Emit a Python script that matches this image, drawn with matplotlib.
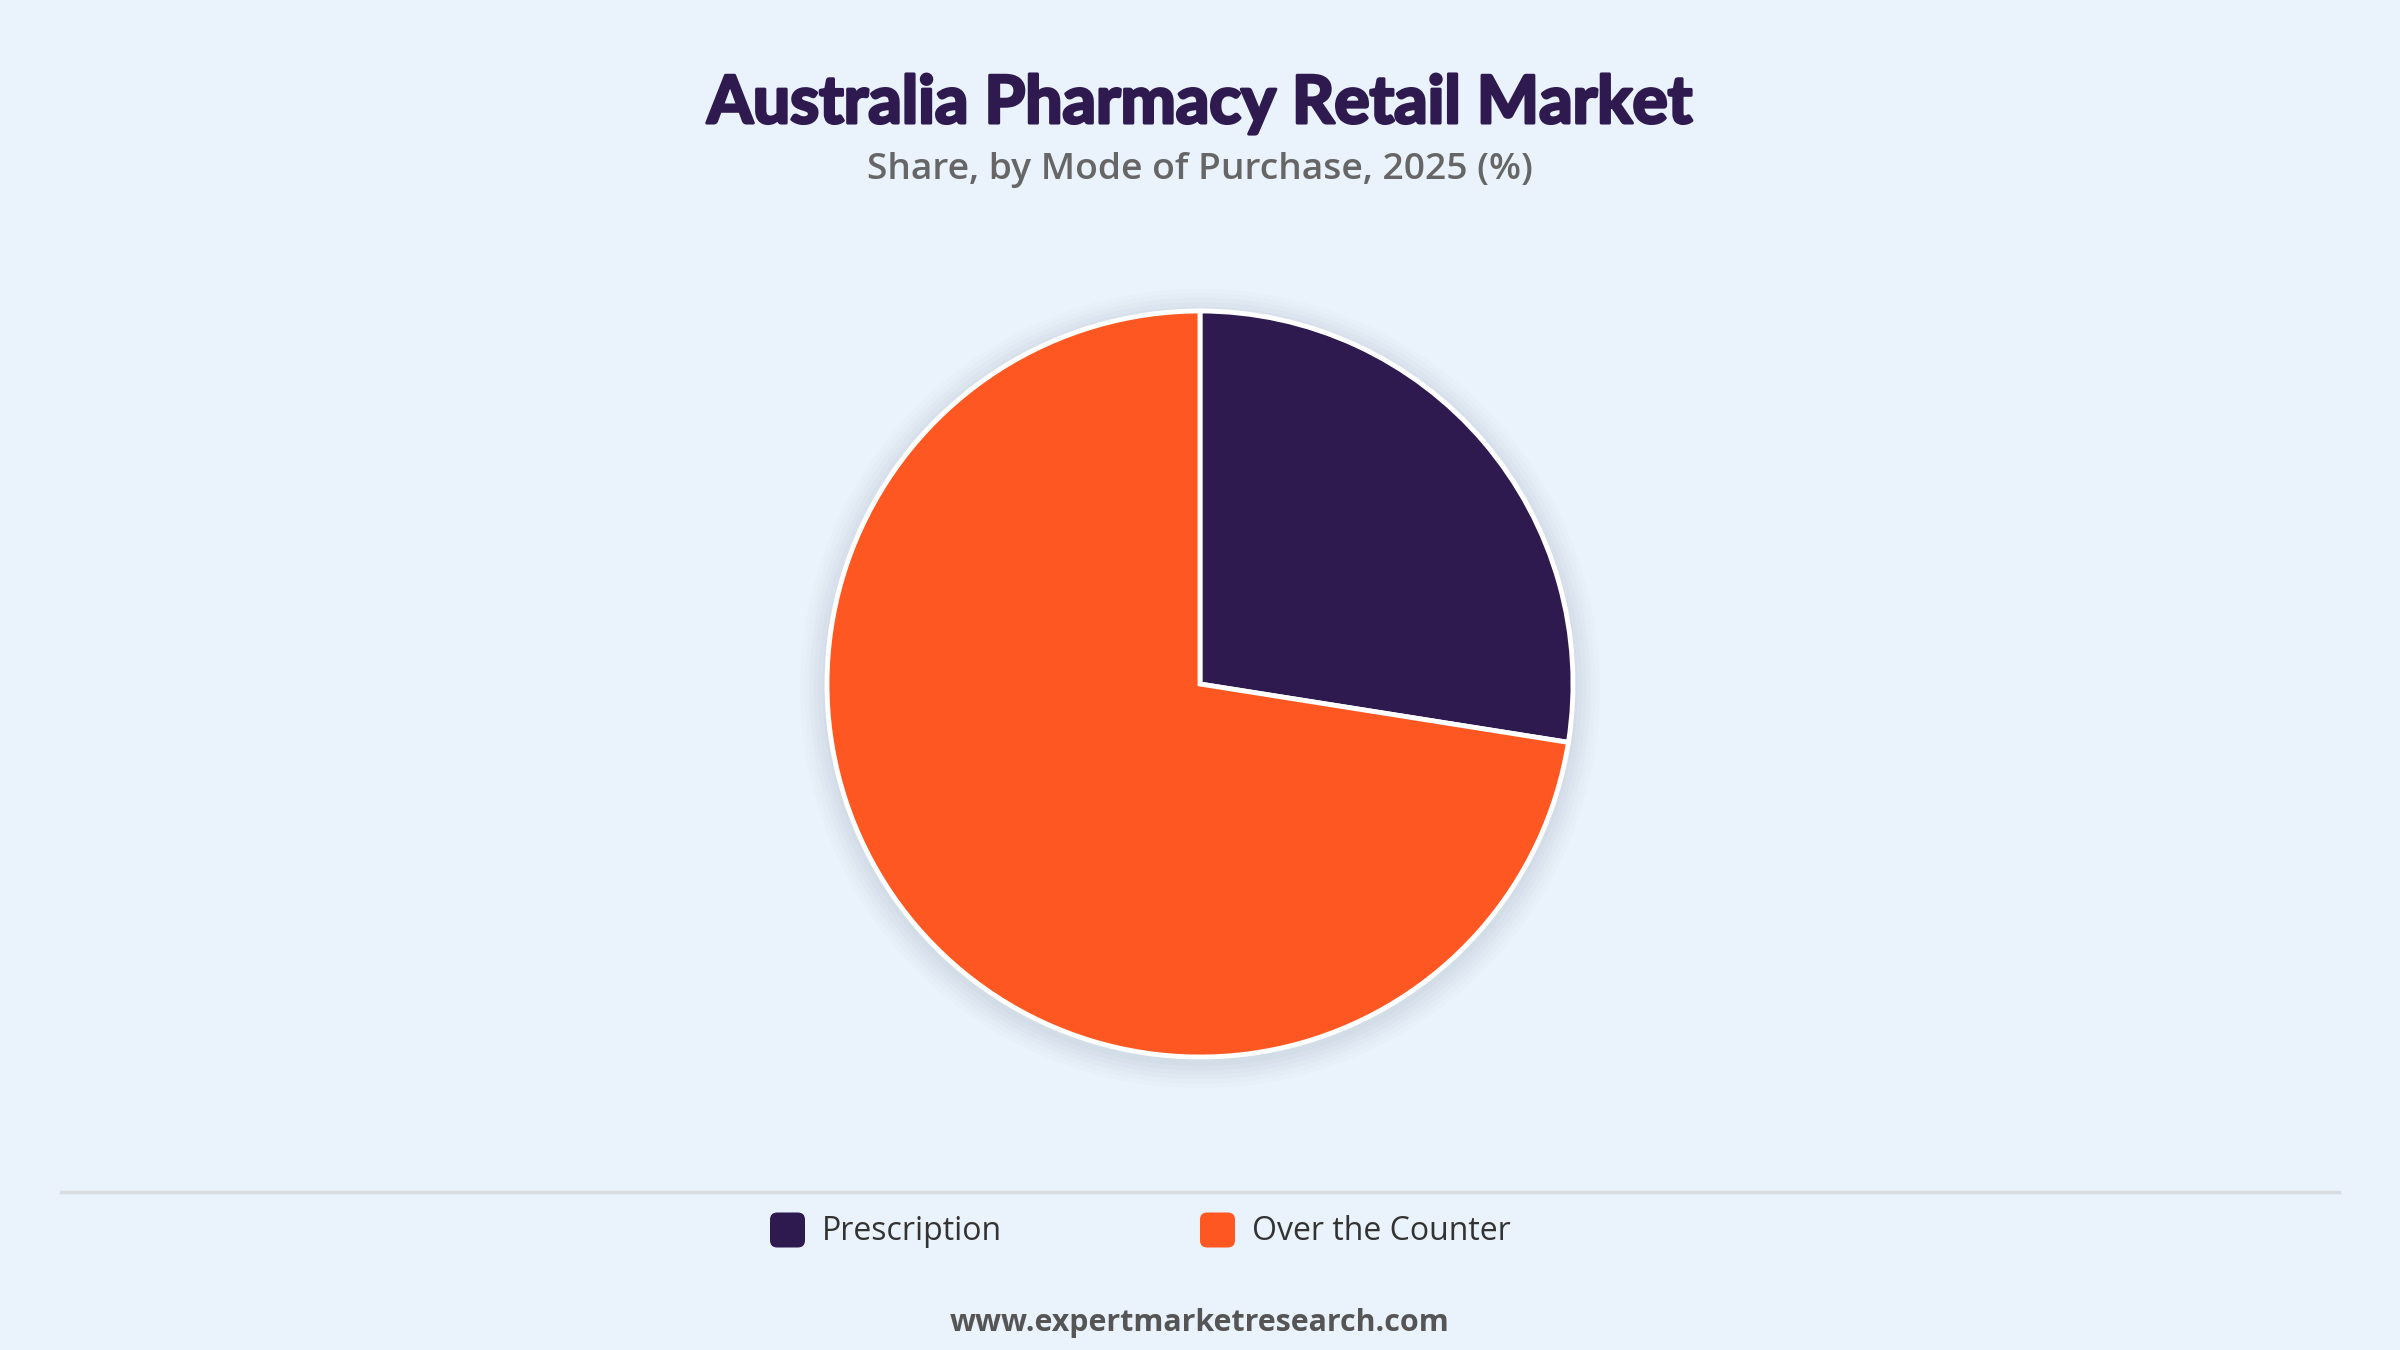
import matplotlib
matplotlib.use("Agg")
import matplotlib.pyplot as plt
from matplotlib.patches import FancyBboxPatch, Circle
from matplotlib.lines import Line2D
import matplotlib.patheffects as pe

categories = ["Prescription", "Over the Counter"]
shares = [27.5, 72.5]
colors = ["#2E1A4F", "#FF5722"]
title = "Australia Pharmacy Retail Market"
subtitle = "Share, by Mode of Purchase, 2025 (%)"
footer = "www.expertmarketresearch.com"

W, H = 2400, 1350
BG = "#EAF2FB"
fig = plt.figure(figsize=(W / 100, H / 100), dpi=100, facecolor=BG)

def fx(px):
    return px / W

def fy(py):
    return 1 - py / H

# Pie axes (with margin so the shadow is not clipped)
cx, cy, r = 1200, 684, 373
m = 1.1
ax = fig.add_axes([fx(cx - r * m), fy(cy + r * m), 2 * r * m / W, 2 * r * m / H])
ax.set_facecolor("none")

wedges, _ = ax.pie(shares, colors=colors, startangle=90, counterclock=False,
                   radius=1.0,
                   wedgeprops=dict(edgecolor="white", linewidth=3.5, joinstyle="miter"))
for w in wedges:
    w.set_zorder(2)

# soft shadow
for i, a in enumerate([0.018, 0.018, 0.016, 0.014, 0.012, 0.01]):
    ax.add_patch(Circle((0.0, -0.012), 1.0 + 0.012 * (i + 1), color="#1a2a40",
                        alpha=a, lw=0, zorder=0, clip_on=False))

ax.set_xlim(-m, m)
ax.set_ylim(-m, m)
ax.set_aspect("equal")
ax.axis("off")

# Title and subtitle
fig.text(0.5, fy(104), title, ha="center", va="center", fontsize=47.5,
         fontweight="bold", family=["Lato", "DejaVu Sans"], color="#2E1A4F",
         path_effects=[pe.withStroke(linewidth=2.2, foreground="#2E1A4F")])
fig.text(0.5, fy(170), subtitle, ha="center", va="center", fontsize=26.8,
         fontweight="semibold", family=["Open Sans", "Noto Sans", "DejaVu Sans"], color="#666666")

# divider
fig.add_artist(Line2D([fx(61), fx(2339)], [fy(1192), fy(1192)], color="#D9DCE1", lw=2.5))

# legend
leg_x = [770, 1200]
sq = 35
for i, (lab, col) in enumerate(zip(categories, colors)):
    x0 = leg_x[i]
    patch = FancyBboxPatch((fx(x0), fy(1230 + sq / 2)), fx(sq), sq / H,
                           boxstyle="round,pad=0,rounding_size=0.003",
                           transform=fig.transFigure, facecolor=col, edgecolor="none",
                           mutation_aspect=W / H)
    fig.add_artist(patch)
    fig.text(fx(x0 + sq + 17), fy(1231), lab, ha="left", va="center", fontsize=23,
             fontweight="medium", family=["Open Sans", "Noto Sans", "DejaVu Sans"], color="#333333")

# footer
fig.text(0.5, fy(1323), footer, ha="center", va="center", fontsize=21.9,
         fontweight="bold", family=["Open Sans", "Noto Sans", "DejaVu Sans"], color="#555555")

fig.savefig("out.png", dpi=100, facecolor=BG)
